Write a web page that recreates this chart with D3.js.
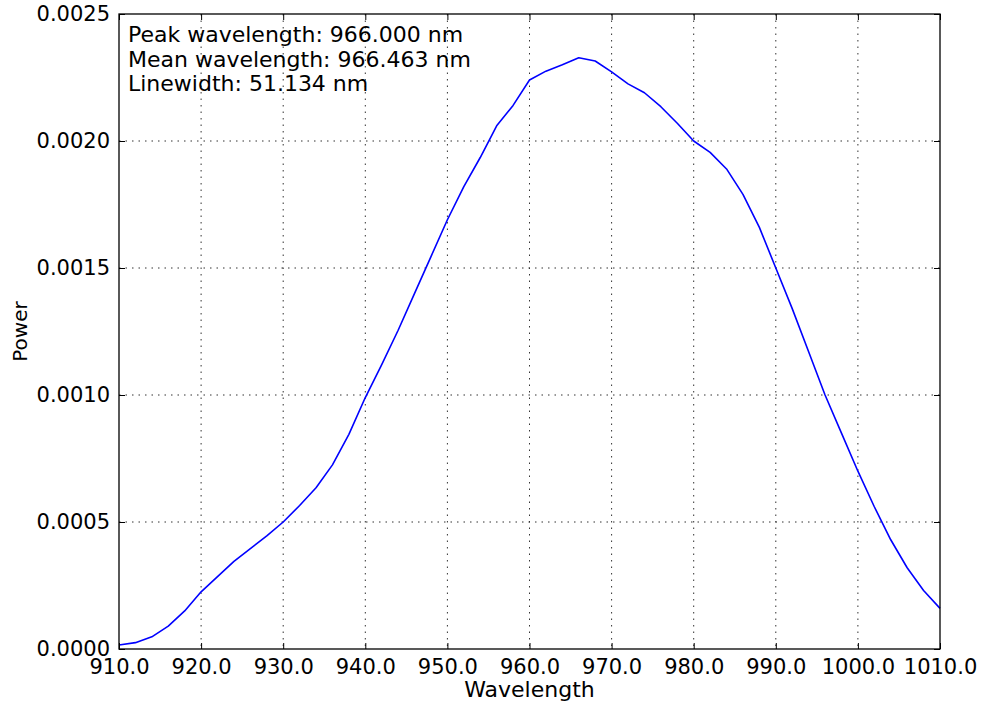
<!DOCTYPE html>
<html>
<head>
<meta charset="utf-8">
<script src="https://cdn.jsdelivr.net/npm/d3@7"></script>
<style>
  body { margin: 0; background: #fff; }
  text { font-family: "DejaVu Sans", sans-serif; fill: #000; }
</style>
</head>
<body>
<div id="chart"></div>
<script>
// spectrum
var wavelengths = [910, 912, 914, 916, 918, 920, 922, 924, 926, 928, 930, 932, 934, 936, 938,
  940, 942, 944, 946, 948, 950, 952, 954, 956, 958, 960, 962, 964, 966, 968, 970, 972, 974,
  976, 978, 980, 982, 984, 986, 988, 990, 992, 994, 996, 998, 1000, 1002, 1004, 1006, 1008, 1010];
var power = [0.000016, 0.000025, 0.000048, 0.000090, 0.000150, 0.000225, 0.000285, 0.000345,
  0.000395, 0.000445, 0.000500, 0.000565, 0.000635, 0.000725, 0.000845, 0.000990, 0.001120,
  0.001255, 0.001400, 0.001545, 0.001690, 0.001820, 0.001935, 0.002060, 0.002140, 0.002240,
  0.002275, 0.002300, 0.002328, 0.002315, 0.002272, 0.002225, 0.002190, 0.002135, 0.002070,
  0.002000, 0.001955, 0.001890, 0.001790, 0.001660, 0.001500, 0.001340, 0.001170, 0.001000,
  0.000850, 0.000700, 0.000560, 0.000430, 0.000320, 0.000230, 0.000160];
var xTicks = [910, 920, 930, 940, 950, 960, 970, 980, 990, 1000, 1010];
var yTicks = [0, 0.0005, 0.001, 0.0015, 0.002, 0.0025];
var infoLines = ["Peak wavelength: 966.000 nm", "Mean wavelength: 966.463 nm", "Linewidth: 51.134 nm"];

var width = 982, height = 705;
var margin = { top: 14, right: 42, bottom: 56, left: 119 };
var tickLen = 6;
var tickFont = 21;
var labelFont = 22;

var svg = d3.select("#chart").append("svg")
    .attr("width", width)
    .attr("height", height);

var x = d3.scaleLinear()
    .domain([910, 1010])
    .range([margin.left, width - margin.right]);

var y = d3.scaleLinear()
    .domain([0, 0.0025])
    .range([height - margin.bottom, margin.top]);

var plotW = width - margin.left - margin.right;
var plotH = height - margin.top - margin.bottom;

// grid lines (dotted)
var grid = svg.append("g")
    .attr("stroke", "#333")
    .attr("stroke-width", 1)
    .attr("stroke-dasharray", "1.5,5");
grid.selectAll(".gx").data(xTicks.slice(1, -1)).join("line")
    .attr("x1", d => x(d)).attr("x2", d => x(d))
    .attr("y1", margin.top).attr("y2", height - margin.bottom);
grid.selectAll(".gy").data(yTicks.slice(1, -1)).join("line")
    .attr("x1", margin.left).attr("x2", width - margin.right)
    .attr("y1", d => y(d)).attr("y2", d => y(d));

// the spectrum
var line = d3.line()
    .x((d, i) => x(wavelengths[i]))
    .y(d => y(d));

svg.append("path")
    .datum(power)
    .attr("fill", "none")
    .attr("stroke", "#0000ff")
    .attr("stroke-width", 1.6)
    .attr("stroke-linejoin", "round")
    .attr("d", line);

// axes - ticks point inwards, on all four sides
svg.append("g")
    .attr("transform", `translate(0,${height - margin.bottom})`)
    .call(d3.axisBottom(x).tickValues(xTicks).tickFormat(d3.format(".1f"))
      .tickSizeInner(-tickLen).tickSizeOuter(0).tickPadding(tickLen + 4))
    .call(g => g.select(".domain").remove())
    .call(g => g.selectAll("text").style("font-size", tickFont + "px")
      .style("font-family", "DejaVu Sans"));

svg.append("g")
    .attr("transform", `translate(0,${margin.top})`)
    .call(d3.axisTop(x).tickValues(xTicks).tickFormat("")
      .tickSizeInner(-tickLen).tickSizeOuter(0))
    .call(g => g.select(".domain").remove());

svg.append("g")
    .attr("transform", `translate(${margin.left},0)`)
    .call(d3.axisLeft(y).tickValues(yTicks).tickFormat(d3.format(".4f"))
      .tickSizeInner(-tickLen).tickSizeOuter(0).tickPadding(tickLen + 3))
    .call(g => g.select(".domain").remove())
    .call(g => g.selectAll("text").style("font-size", tickFont + "px")
      .style("font-family", "DejaVu Sans"));

svg.append("g")
    .attr("transform", `translate(${width - margin.right},0)`)
    .call(d3.axisRight(y).tickValues(yTicks).tickFormat("")
      .tickSizeInner(-tickLen).tickSizeOuter(0))
    .call(g => g.select(".domain").remove());

svg.selectAll(".tick line").attr("stroke", "#000").attr("stroke-width", 1);

// frame
svg.append("rect")
    .attr("x", margin.left).attr("y", margin.top)
    .attr("width", plotW).attr("height", plotH)
    .attr("fill", "none")
    .attr("stroke", "#000")
    .attr("stroke-width", 1.3);

// axis labels
svg.append("text")
    .attr("x", margin.left + plotW / 2)
    .attr("y", 697)
    .attr("text-anchor", "middle")
    .style("font-size", labelFont + "px")
    .text("Wavelength");

svg.append("text")
    .attr("transform", `translate(27,${margin.top + plotH / 2}) rotate(-90)`)
    .attr("text-anchor", "middle")
    .style("font-size", "20px")
    .text("Power");

// info text at top left
svg.append("g").selectAll("text").data(infoLines).join("text")
    .attr("x", 128)
    .attr("y", (d, i) => 42 + i * 24.5)
    .style("font-size", labelFont + "px")
    .text(d => d);
</script>
</body>
</html>
